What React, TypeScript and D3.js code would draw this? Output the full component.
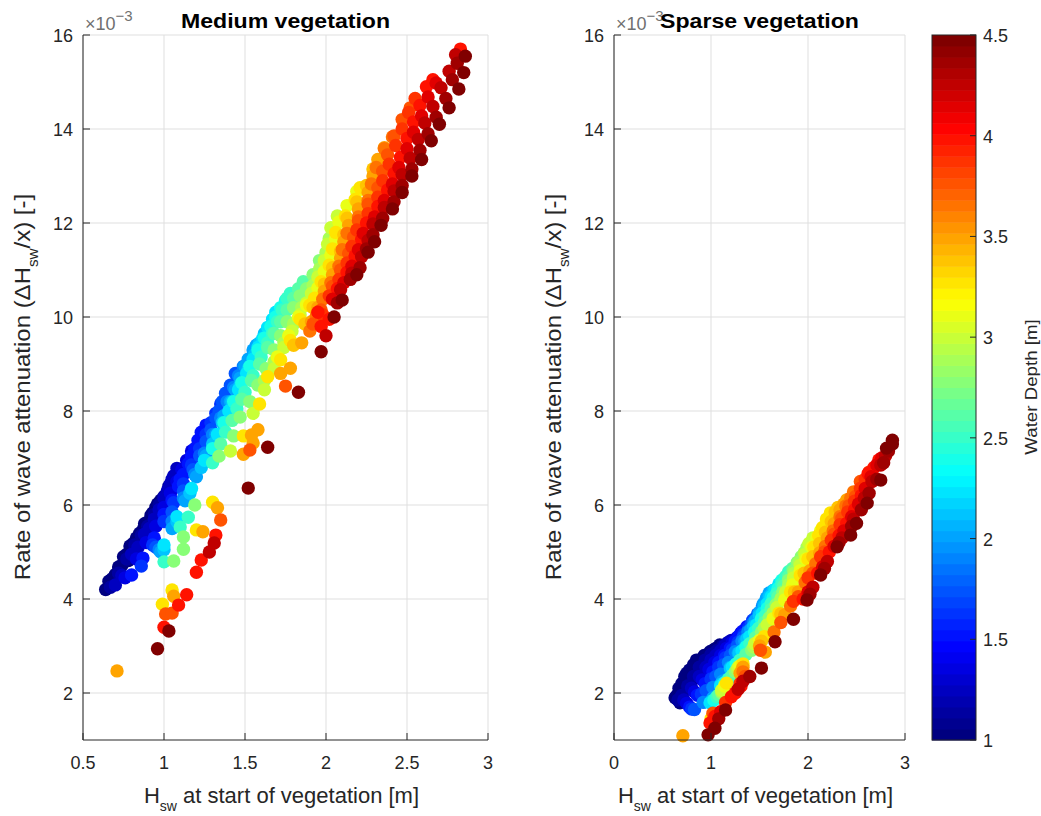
import React from 'react';
import * as d3 from 'd3';

// ---------- data (H_sw [m], rate ×1e-3) grouped by water depth [m] ----------
const depthLevels = [1.0, 1.125, 1.25, 1.375, 1.5, 1.625, 1.75, 1.875, 2.0, 2.125, 2.25, 2.375, 2.5, 2.625, 2.75, 2.875, 3.0, 3.125, 3.25, 3.375, 3.5, 3.625, 3.75, 3.875, 4.0, 4.125, 4.25, 4.375, 4.5];

// Medium vegetation
const mediumDepth1000 = [[0.64,4.20],[0.66,4.38],[0.68,4.43],[0.70,4.40],[0.70,4.52],[0.72,4.68],[0.74,4.72],[0.75,4.90],[0.77,4.95],[0.78,4.82],[0.79,5.13],[0.81,5.18],[0.83,5.30],[0.85,5.40],[0.86,5.25],[0.87,5.47],[0.88,5.60],[0.90,5.64],[0.92,5.78],[0.93,5.55],[0.93,5.83],[0.95,5.95],[0.96,6.02],[0.98,6.10]];
const mediumDepth1125 = [[0.67,4.25],[0.72,4.55],[0.77,4.85],[0.82,5.15],[0.86,5.35],[0.90,5.55],[0.94,5.80],[0.97,6.00],[1.00,6.18],[1.03,6.40]];
const mediumDepth1250 = [[0.70,4.30],[0.74,4.50],[0.80,4.95],[0.84,5.10],[0.88,5.38],[0.91,5.50],[0.94,5.70],[0.97,5.90],[1.00,6.15],[1.02,6.30],[1.04,6.45],[1.05,6.55],[1.06,6.62],[1.08,6.78]];
const mediumDepth1375 = [[0.76,4.45],[0.83,4.85],[0.89,5.20],[0.95,5.55],[1.00,5.95],[1.04,6.25],[1.08,6.50],[1.11,6.75],[1.14,6.95],[1.17,7.15]];
const mediumDepth1500 = [[0.80,4.51],[0.87,4.87],[0.94,5.30],[1.00,5.80],[1.05,6.10],[1.09,6.40],[1.10,6.55],[1.12,6.65],[1.15,6.88],[1.17,7.05],[1.19,7.20],[1.21,7.38],[1.23,7.55],[1.26,7.70]];
const mediumDepth1625 = [[0.86,4.70],[0.93,5.15],[1.00,5.65],[1.06,6.05],[1.12,6.45],[1.17,6.85],[1.22,7.20],[1.26,7.50],[1.29,7.75],[1.32,7.95],[1.35,8.15]];
const mediumDepth1750 = [[0.95,5.10],[1.05,5.85],[1.12,6.30],[1.18,6.75],[1.22,7.05],[1.26,7.35],[1.29,7.60],[1.32,7.85],[1.34,8.00],[1.36,8.20],[1.38,8.38],[1.41,8.55],[1.44,8.80]];
const mediumDepth1875 = [[0.97,5.05],[1.05,5.65],[1.12,6.15],[1.19,6.65],[1.25,7.10],[1.30,7.50],[1.35,7.85],[1.39,8.20],[1.43,8.50],[1.46,8.75],[1.49,8.95]];
const mediumDepth2000 = [[0.98,5.00],[1.05,5.50],[1.13,6.09],[1.20,6.60],[1.26,7.05],[1.32,7.50],[1.37,7.90],[1.41,8.20],[1.44,8.45],[1.47,8.70],[1.50,8.95],[1.52,9.10],[1.55,9.30],[1.57,9.40]];
const mediumDepth2125 = [[1.00,5.05],[1.08,5.65],[1.16,6.25],[1.23,6.80],[1.30,7.30],[1.36,7.75],[1.42,8.20],[1.47,8.55],[1.52,8.90],[1.56,9.20],[1.59,9.45],[1.62,9.65]];
const mediumDepth2250 = [[1.00,5.15],[1.08,5.75],[1.17,6.35],[1.25,6.95],[1.33,7.50],[1.40,8.00],[1.46,8.45],[1.51,8.80],[1.55,9.10],[1.58,9.35],[1.61,9.55],[1.64,9.78],[1.67,9.95],[1.69,10.10]];
const mediumDepth2375 = [[1.30,7.20],[1.37,7.75],[1.43,8.20],[1.48,8.60],[1.53,8.95],[1.58,9.30],[1.62,9.55],[1.66,9.80],[1.69,10.00],[1.72,10.20],[1.75,10.35]];
const mediumDepth2500 = [[1.00,4.79],[1.10,5.53],[1.15,5.74],[1.30,6.90],[1.38,7.55],[1.45,8.05],[1.50,8.40],[1.55,8.75],[1.60,9.15],[1.64,9.45],[1.67,9.65],[1.70,9.90],[1.73,10.15],[1.76,10.40],[1.78,10.50]];
const mediumDepth2625 = [[1.35,7.30],[1.42,7.80],[1.48,8.25],[1.54,8.65],[1.59,9.00],[1.64,9.35],[1.68,9.65],[1.72,9.90],[1.76,10.15],[1.80,10.40],[1.83,10.60],[1.86,10.75]];
const mediumDepth2750 = [[1.06,4.81],[1.12,5.06],[1.12,5.32],[1.19,6.00],[1.34,7.04],[1.43,7.47],[1.47,7.87],[1.53,8.20],[1.58,8.55],[1.63,8.90],[1.68,9.30],[1.72,9.60],[1.76,9.90],[1.80,10.20],[1.84,10.45],[1.88,10.60],[1.92,10.90],[1.96,11.20]];
const mediumDepth2875 = [[1.62,8.65],[1.68,9.05],[1.74,9.45],[1.80,9.85],[1.85,10.20],[1.92,10.67],[1.96,11.02],[2.00,11.37],[2.02,11.67]];
const mediumDepth3000 = [[1.41,7.15],[1.55,7.95],[1.62,8.45],[1.68,8.90],[1.74,9.35],[1.79,9.70],[1.84,10.05],[1.88,10.30],[1.91,10.50],[1.95,10.85],[1.99,11.20],[2.01,11.55],[2.03,11.90],[2.07,12.15]];
const mediumDepth3125 = [[1.70,9.15],[1.77,9.60],[1.83,10.00],[1.88,10.25],[1.95,10.62],[1.99,10.97],[2.03,11.32],[2.06,11.67],[2.08,12.02],[2.13,12.37],[2.19,12.67]];
const mediumDepth3250 = [[0.99,3.89],[1.05,4.19],[1.20,5.47],[1.30,6.06],[1.49,7.47],[1.59,8.15],[1.64,8.73],[1.72,9.09],[1.78,9.50],[1.84,9.95],[1.90,10.25],[1.93,10.40],[1.97,10.75],[2.02,11.10],[2.04,11.45],[2.06,11.80],[2.12,12.15],[2.18,12.50],[2.21,12.75]];
const mediumDepth3375 = [[1.80,9.40],[1.87,9.85],[1.92,10.20],[1.99,10.70],[2.04,11.05],[2.09,11.40],[2.11,11.75],[2.13,12.10],[2.19,12.45],[2.25,12.80],[2.29,13.15]];
const mediumDepth3500 = [[0.71,2.47],[1.06,4.06],[1.24,5.43],[1.33,5.94],[1.49,7.08],[1.55,7.32],[1.54,7.49],[1.58,7.60],[1.72,8.80],[1.78,8.91],[1.85,9.45],[1.91,9.90],[1.95,10.20],[1.99,10.55],[2.04,10.90],[2.09,11.25],[2.11,11.60],[2.14,11.95],[2.20,12.30],[2.26,12.65],[2.29,13.00],[2.32,13.35],[2.36,13.60]];
const mediumDepth3625 = [[1.90,9.70],[1.94,10.02],[1.98,10.38],[2.03,10.73],[2.08,11.08],[2.10,11.43],[2.13,11.78],[2.20,12.13],[2.26,12.48],[2.28,12.83],[2.31,13.18],[2.36,13.58],[2.41,13.83]];
const mediumDepth3750 = [[1.01,3.68],[1.05,3.70],[1.35,5.68],[1.53,7.17],[1.75,8.53],[1.92,9.85],[1.97,10.15],[2.04,10.65],[2.09,11.00],[2.14,11.35],[2.17,11.70],[2.20,12.05],[2.26,12.40],[2.32,12.75],[2.35,13.10],[2.38,13.45],[2.42,13.85],[2.47,14.20],[2.52,14.45]];
const mediumDepth3875 = [[1.98,10.05],[2.02,10.45],[2.08,10.80],[2.13,11.15],[2.16,11.50],[2.19,11.85],[2.26,12.20],[2.32,12.55],[2.35,12.90],[2.39,13.25],[2.43,13.65],[2.47,14.00],[2.51,14.35],[2.55,14.65]];
const mediumDepth4000 = [[1.00,3.40],[1.09,3.87],[1.14,4.09],[1.20,4.57],[1.23,4.83],[1.32,5.36],[1.95,10.10],[1.97,9.80],[2.02,9.95],[2.07,10.60],[2.13,10.95],[2.18,11.30],[2.22,11.65],[2.25,12.00],[2.32,12.35],[2.38,12.70],[2.42,13.05],[2.46,13.40],[2.50,13.80],[2.54,14.15],[2.58,14.50],[2.62,14.90],[2.66,15.05],[2.83,15.70]];
const mediumDepth4125 = [[2.04,10.38],[2.11,10.73],[2.16,11.08],[2.20,11.43],[2.23,11.78],[2.30,12.13],[2.36,12.48],[2.41,12.83],[2.45,13.18],[2.50,13.58],[2.54,13.93],[2.59,14.28],[2.63,14.68],[2.68,14.98]];
const mediumDepth4250 = [[1.28,5.00],[1.31,5.19],[2.00,9.60],[2.09,10.58],[2.16,10.93],[2.22,11.28],[2.26,11.63],[2.29,11.98],[2.36,12.33],[2.42,12.68],[2.47,13.03],[2.52,13.38],[2.57,13.78],[2.61,14.13],[2.66,14.48],[2.71,14.88],[2.76,15.23],[2.80,15.58]];
const mediumDepth4375 = [[2.07,10.30],[2.15,10.80],[2.21,11.05],[2.25,11.45],[2.29,11.75],[2.35,12.10],[2.42,12.45],[2.47,12.80],[2.53,13.15],[2.58,13.55],[2.63,13.90],[2.68,14.25],[2.74,14.65],[2.78,15.05],[2.81,15.40]];
const mediumDepth4500 = [[0.96,2.94],[1.03,3.32],[1.52,6.36],[1.64,7.23],[1.83,8.40],[1.97,9.26],[2.05,10.00],[2.10,10.36],[2.19,10.90],[2.26,11.38],[2.30,11.60],[2.34,11.95],[2.41,12.30],[2.47,12.65],[2.53,13.00],[2.59,13.35],[2.65,13.75],[2.70,14.10],[2.76,14.45],[2.82,14.85],[2.85,15.20],[2.86,15.55]];

// Sparse vegetation
const sparseDepth1000 = [[0.63,1.90],[0.65,1.95],[0.67,2.10],[0.68,1.79],[0.70,2.20],[0.72,2.05],[0.73,2.35],[0.75,2.10],[0.75,2.42],[0.77,2.25],[0.78,2.49],[0.80,2.40],[0.82,2.30],[0.82,2.60],[0.85,2.70],[0.87,2.55],[0.90,2.45],[0.90,2.72],[0.93,2.80],[0.96,2.77],[0.97,2.60],[0.99,2.88],[1.02,2.91],[1.05,2.95],[1.09,3.02]];
const sparseDepth1125 = [[0.66,1.85],[0.70,1.95],[0.76,2.15],[0.82,2.35],[0.88,2.55],[0.94,2.70],[1.00,2.82],[1.06,2.90],[1.12,3.00],[1.16,3.05]];
const sparseDepth1250 = [[0.72,1.85],[0.80,2.10],[0.88,2.35],[0.95,2.55],[1.00,2.70],[1.05,2.80],[1.10,2.90],[1.14,3.00],[1.18,3.08],[1.21,3.12]];
const sparseDepth1375 = [[0.75,1.78],[0.83,2.02],[0.91,2.28],[0.98,2.50],[1.04,2.65],[1.10,2.80],[1.16,2.95],[1.22,3.08],[1.27,3.18],[1.31,3.28]];
const sparseDepth1500 = [[0.78,1.70],[0.86,1.95],[0.94,2.20],[1.02,2.45],[1.08,2.65],[1.14,2.80],[1.20,2.95],[1.25,3.10],[1.29,3.22],[1.33,3.32],[1.37,3.41]];
const sparseDepth1625 = [[0.80,1.66],[0.90,1.98],[1.00,2.30],[1.08,2.55],[1.15,2.75],[1.22,2.92],[1.28,3.08],[1.34,3.25],[1.39,3.40],[1.43,3.55]];
const sparseDepth1750 = [[0.83,1.65],[0.95,2.05],[1.05,2.35],[1.13,2.60],[1.20,2.80],[1.27,3.00],[1.33,3.18],[1.38,3.32],[1.42,3.48],[1.45,3.58],[1.48,3.68]];
const sparseDepth1875 = [[0.92,1.80],[1.02,2.12],[1.10,2.40],[1.18,2.65],[1.25,2.88],[1.32,3.10],[1.38,3.30],[1.44,3.50],[1.49,3.68],[1.53,3.85]];
const sparseDepth2000 = [[1.02,1.90],[1.12,2.25],[1.20,2.55],[1.28,2.85],[1.35,3.10],[1.41,3.35],[1.46,3.55],[1.50,3.72],[1.54,3.90],[1.57,4.02],[1.60,4.13]];
const sparseDepth2125 = [[1.00,1.82],[1.10,2.18],[1.20,2.52],[1.29,2.85],[1.37,3.15],[1.44,3.42],[1.50,3.65],[1.55,3.85],[1.60,4.05],[1.64,4.18]];
const sparseDepth2250 = [[0.99,1.79],[1.10,2.15],[1.22,2.55],[1.32,2.90],[1.40,3.20],[1.47,3.45],[1.53,3.70],[1.58,3.90],[1.62,4.05],[1.66,4.20],[1.70,4.32]];
const sparseDepth2375 = [[1.03,1.85],[1.14,2.22],[1.26,2.62],[1.36,2.98],[1.45,3.30],[1.52,3.58],[1.58,3.80],[1.64,4.02],[1.69,4.22],[1.73,4.40]];
const sparseDepth2500 = [[1.06,1.92],[1.18,2.30],[1.30,2.70],[1.40,3.05],[1.49,3.38],[1.56,3.65],[1.62,3.90],[1.68,4.12],[1.73,4.32],[1.77,4.48],[1.80,4.58]];
const sparseDepth2625 = [[1.08,1.96],[1.22,2.38],[1.36,2.82],[1.46,3.18],[1.55,3.50],[1.62,3.78],[1.69,4.05],[1.75,4.28],[1.80,4.48],[1.84,4.65]];
const sparseDepth2750 = [[1.11,2.00],[1.25,2.45],[1.42,2.91],[1.52,3.30],[1.60,3.60],[1.67,3.88],[1.74,4.15],[1.80,4.40],[1.85,4.60],[1.89,4.78],[1.93,4.90]];
const sparseDepth2875 = [[1.11,2.03],[1.27,2.50],[1.44,2.98],[1.55,3.38],[1.64,3.70],[1.72,4.00],[1.80,4.30],[1.86,4.55],[1.91,4.78],[1.96,4.98],[1.99,5.10]];
const sparseDepth3000 = [[1.11,2.06],[1.28,2.55],[1.45,3.05],[1.58,3.45],[1.68,3.82],[1.77,4.15],[1.85,4.45],[1.92,4.72],[1.97,4.95],[2.01,5.18],[2.05,5.30]];
const sparseDepth3125 = [[1.14,2.15],[1.30,2.58],[1.50,3.12],[1.64,3.58],[1.76,3.98],[1.84,4.30],[1.92,4.60],[1.98,4.85],[2.04,5.10],[2.09,5.30],[2.13,5.45]];
const sparseDepth3250 = [[1.00,1.45],[1.16,2.21],[1.33,2.62],[1.55,3.20],[1.70,3.70],[1.82,4.15],[1.92,4.50],[2.00,4.85],[2.06,5.10],[2.11,5.35],[2.15,5.52],[2.19,5.70],[2.23,5.83]];
const sparseDepth3375 = [[1.32,2.50],[1.52,3.10],[1.72,3.68],[1.86,4.15],[1.96,4.55],[2.05,4.90],[2.12,5.18],[2.18,5.42],[2.24,5.65],[2.28,5.85],[2.31,5.95]];
const sparseDepth3500 = [[0.71,1.09],[1.30,2.42],[1.33,2.55],[1.50,3.00],[1.56,2.87],[1.76,3.66],[1.90,4.15],[2.02,4.60],[2.12,4.98],[2.20,5.30],[2.27,5.60],[2.33,5.90],[2.37,6.02],[2.40,6.11]];
const sparseDepth3625 = [[1.33,2.45],[1.65,3.30],[1.82,3.85],[1.97,4.35],[2.08,4.75],[2.18,5.12],[2.26,5.45],[2.33,5.75],[2.39,5.98],[2.44,6.15],[2.47,6.28]];
const sparseDepth3750 = [[1.02,1.57],[1.35,2.35],[1.51,2.91],[1.72,3.50],[1.90,4.05],[2.05,4.55],[2.17,5.00],[2.27,5.38],[2.35,5.72],[2.42,5.98],[2.49,6.18],[2.54,6.50]];
const sparseDepth3875 = [[1.15,1.80],[1.30,2.20],[1.85,3.95],[2.00,4.45],[2.13,4.90],[2.24,5.25],[2.33,5.58],[2.41,5.85],[2.48,6.08],[2.54,6.35],[2.59,6.55],[2.63,6.70]];
const sparseDepth4000 = [[0.99,1.36],[1.04,1.50],[1.21,1.92],[1.25,2.00],[1.31,2.15],[1.95,4.00],[2.10,4.55],[2.22,5.00],[2.32,5.35],[2.40,5.61],[2.48,5.90],[2.55,6.20],[2.62,6.67],[2.68,6.80],[2.73,6.96]];
const sparseDepth4125 = [[1.10,1.60],[2.00,4.15],[2.15,4.68],[2.27,5.12],[2.37,5.45],[2.45,5.75],[2.52,6.02],[2.59,6.35],[2.65,6.60],[2.71,6.85],[2.76,7.00]];
const sparseDepth4250 = [[1.28,2.08],[1.33,2.25],[2.05,4.25],[2.20,4.80],[2.35,5.30],[2.47,5.70],[2.58,6.15],[2.66,6.50],[2.75,6.85],[2.80,7.05]];
const sparseDepth4375 = [[1.08,1.45],[1.40,2.35],[2.02,4.10],[2.17,4.65],[2.32,5.20],[2.45,5.55],[2.55,5.90],[2.63,6.25],[2.71,6.55],[2.78,6.90],[2.83,7.15]];
const sparseDepth4500 = [[0.97,1.11],[1.04,1.25],[1.15,1.64],[1.52,2.53],[1.66,3.09],[1.85,3.57],[1.99,3.98],[2.13,4.51],[2.30,5.11],[2.44,5.36],[2.50,5.61],[2.61,6.04],[2.75,6.53],[2.81,7.21],[2.87,7.30],[2.87,7.38]];

const mediumSeries = [mediumDepth1000, mediumDepth1125, mediumDepth1250, mediumDepth1375, mediumDepth1500, mediumDepth1625, mediumDepth1750, mediumDepth1875, mediumDepth2000, mediumDepth2125, mediumDepth2250, mediumDepth2375, mediumDepth2500, mediumDepth2625, mediumDepth2750, mediumDepth2875, mediumDepth3000, mediumDepth3125, mediumDepth3250, mediumDepth3375, mediumDepth3500, mediumDepth3625, mediumDepth3750, mediumDepth3875, mediumDepth4000, mediumDepth4125, mediumDepth4250, mediumDepth4375, mediumDepth4500];
const sparseSeries = [sparseDepth1000, sparseDepth1125, sparseDepth1250, sparseDepth1375, sparseDepth1500, sparseDepth1625, sparseDepth1750, sparseDepth1875, sparseDepth2000, sparseDepth2125, sparseDepth2250, sparseDepth2375, sparseDepth2500, sparseDepth2625, sparseDepth2750, sparseDepth2875, sparseDepth3000, sparseDepth3125, sparseDepth3250, sparseDepth3375, sparseDepth3500, sparseDepth3625, sparseDepth3750, sparseDepth3875, sparseDepth4000, sparseDepth4125, sparseDepth4250, sparseDepth4375, sparseDepth4500];

const mediumXTicks = [0.5, 1, 1.5, 2, 2.5, 3];
const sparseXTicks = [0, 1, 2, 3];
const yTicks = [2, 4, 6, 8, 10, 12, 14, 16];
const colorTicks = [1, 1.5, 2, 2.5, 3, 3.5, 4, 4.5];

const titles = ['Medium vegetation', 'Sparse vegetation'];
const colorbarLabel = 'Water Depth [m]';

// ---------- styling / layout ----------
const FONT = '"Liberation Sans", Arial, Helvetica, sans-serif';
const AX = '#262626';
const GRID = '#dfdfdf';
const TOP = 35, BOTTOM = 740;
const NCOL = 64;
const CMIN = 1, CMAX = 4.5;

const clamp = (v: number) => Math.max(0, Math.min(1, v));
function jet(t: number) {
  const r = clamp(1.5 - Math.abs(4 * t - 3));
  const g = clamp(1.5 - Math.abs(4 * t - 2));
  const b = clamp(1.5 - Math.abs(4 * t - 1));
  return d3.rgb(r * 255, g * 255, b * 255).formatHex();
}
const colorIndex = (v: number) => Math.max(0, Math.min(NCOL - 1, Math.floor(((v - CMIN) / (CMAX - CMIN)) * NCOL)));
const colorOf = (v: number) => jet(colorIndex(v) / (NCOL - 1));

const yScale = d3.scaleLinear().domain([1, 16]).range([BOTTOM, TOP]);
const mediumX = d3.scaleLinear().domain([0.5, 3]).range([83, 488]);
const sparseX = d3.scaleLinear().domain([0, 3]).range([614, 905]);
const cScale = d3.scaleLinear().domain([CMIN, CMAX]).range([BOTTOM, TOP]);

type Props = { xScale: d3.ScaleLinear<number, number>; xTicks: number[]; title: string; series: number[][][] };

function Panel({ xScale, xTicks, title, series }: Props) {
  const [x0, x1] = xScale.range();
  const cx = (x0 + x1) / 2;
  const pts: { x: number; y: number; c: string }[] = [];
  series.forEach((s, i) => {
    s.forEach(([h, r]) => pts.push({ x: xScale(h), y: yScale(r), c: colorOf(depthLevels[i]) }));
  });
  const tick = 7;
  return (
    <g>
      {xTicks.map((t) => (
        <line key={'gx' + t} x1={xScale(t)} x2={xScale(t)} y1={TOP} y2={BOTTOM} stroke={GRID} strokeWidth={1} />
      ))}
      {yTicks.map((t) => (
        <line key={'gy' + t} x1={x0} x2={x1} y1={yScale(t)} y2={yScale(t)} stroke={GRID} strokeWidth={1} />
      ))}
      {pts.map((p, i) => (
        <circle key={i} cx={p.x} cy={p.y} r={6.7} fill={p.c} />
      ))}
      <line x1={x0} x2={x0} y1={TOP} y2={BOTTOM} stroke={AX} strokeWidth={1} />
      <line x1={x0} x2={x1} y1={BOTTOM} y2={BOTTOM} stroke={AX} strokeWidth={1} />
      {yTicks.map((t) => (
        <g key={'ty' + t}>
          <line x1={x0} x2={x0 + tick} y1={yScale(t)} y2={yScale(t)} stroke={AX} />
          <text x={x0 - 10} y={yScale(t) + 7} textAnchor="end" fontSize={18} fill={AX} fontFamily={FONT}>{String(t)}</text>
        </g>
      ))}
      {xTicks.map((t) => (
        <g key={'tx' + t}>
          <line x1={xScale(t)} x2={xScale(t)} y1={BOTTOM} y2={BOTTOM - tick} stroke={AX} />
          <text x={xScale(t)} y={769} textAnchor="middle" fontSize={18} fill={AX} fontFamily={FONT}>{String(t)}</text>
        </g>
      ))}
      <text x={x0 + 2} y={30} fontSize={18} fill="#707070" fontFamily={FONT}>
        ×10<tspan dy={-9} fontSize={15}>−3</tspan>
      </text>
      <g transform={`translate(${cx},28) scale(1.1,1)`}>
        <text textAnchor="middle" fontSize={21} fontWeight="bold" fill="#000" fontFamily={FONT}>{title}</text>
      </g>
      <text x={cx - 4} y={803} textAnchor="middle" fontSize={22} fill={AX} fontFamily={FONT}>
        H<tspan fontSize={14} dy={8}>sw</tspan><tspan dy={-8}> at start of vegetation [m]</tspan>
      </text>
      <g transform={`translate(${x0 - 53},387) rotate(-90) scale(1.09,1)`}>
        <text textAnchor="middle" fontSize={22} fill={AX} fontFamily={FONT}>
          Rate of wave attenuation (ΔH<tspan fontSize={14} dy={8}>sw</tspan><tspan dy={-8}>/x) [-]</tspan>
        </text>
      </g>
    </g>
  );
}

function Colorbar() {
  const xL = 932, xR = 976;
  const step = (CMAX - CMIN) / NCOL;
  const bands = d3.range(NCOL).map((i) => ({ i, v0: CMIN + i * step, v1: CMIN + (i + 1) * step }));
  return (
    <g>
      {bands.map((b) => (
        <rect key={b.i} x={xL} y={cScale(b.v1)} width={xR - xL} height={cScale(b.v0) - cScale(b.v1) + 0.5} fill={jet(b.i / (NCOL - 1))} />
      ))}
      <rect x={xL} y={TOP} width={xR - xL} height={BOTTOM - TOP} fill="none" stroke={AX} strokeWidth={1} />
      {colorTicks.map((t) => (
        <g key={t}>
          <line x1={xR - 6} x2={xR} y1={cScale(t)} y2={cScale(t)} stroke={AX} />
          <text x={983} y={cScale(t) + 7} fontSize={18} fill={AX} fontFamily={FONT}>{String(t)}</text>
        </g>
      ))}
      <g transform={`translate(1037,387) rotate(-90) scale(1.1,1)`}>
        <text textAnchor="middle" fontSize={17} fill={AX} fontFamily={FONT}>{colorbarLabel}</text>
      </g>
    </g>
  );
}

export default function App() {
  return (
    <svg width={1041} height={816} style={{ position: 'absolute', left: 0, top: 0, background: '#fff' }}>
      <rect x={0} y={0} width={1041} height={816} fill="#fff" />
      <Panel xScale={mediumX} xTicks={mediumXTicks} title={titles[0]} series={mediumSeries} />
      <Panel xScale={sparseX} xTicks={sparseXTicks} title={titles[1]} series={sparseSeries} />
      <Colorbar />
    </svg>
  );
}
